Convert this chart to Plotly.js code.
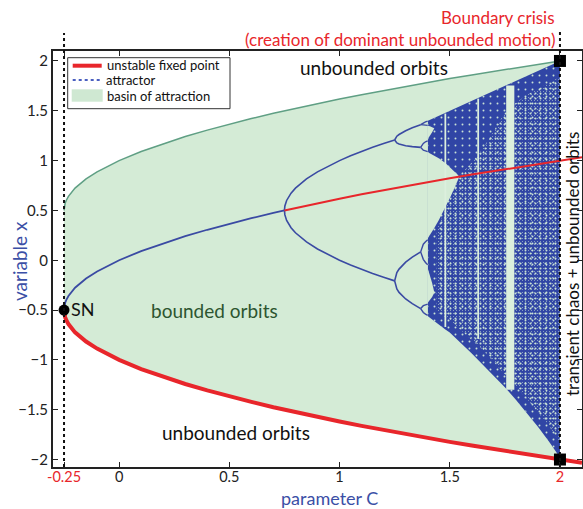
<!DOCTYPE html>
<html>
<head>
<meta charset="utf-8">
<script src="https://cdn.plot.ly/plotly-3.0.1.min.js"></script>
<style>
  html, body { margin: 0; padding: 0; background: #ffffff; }
  #chart { width: 583px; height: 509px; }
</style>
</head>
<body>
<div id="chart"></div>
<script>
// Quadratic map x -> C - x^2 : fixed points, basin and attractor versus parameter C

// Unstable (saddle) fixed point, lower branch; also the lower edge of the basin
const saddleC = [-0.25, -0.249, -0.245, -0.24, -0.23, -0.2, -0.15, -0.1, -0.05, 0,
  0.1, 0.2, 0.3, 0.4, 0.5, 0.6, 0.7, 0.8, 0.9, 1.0,
  1.1, 1.2, 1.3, 1.4, 1.5, 1.6, 1.7, 1.8, 1.9, 2.0, 2.1];
const saddleX = [-0.5, -0.532, -0.571, -0.6, -0.641, -0.724, -0.816, -0.887, -0.947, -1.0,
  -1.092, -1.171, -1.242, -1.306, -1.366, -1.422, -1.475, -1.525, -1.572, -1.618,
  -1.662, -1.704, -1.745, -1.785, -1.823, -1.860, -1.896, -1.932, -1.966, -2.0, -2.033];

// Upper edge of the basin of attraction
const basinC = [-0.25, -0.249, -0.245, -0.24, -0.23, -0.2, -0.15, -0.1, -0.05, 0,
  0.1, 0.2, 0.3, 0.4, 0.5, 0.6, 0.7, 0.8, 0.9, 1.0,
  1.1, 1.2, 1.3, 1.4, 1.5, 1.6, 1.7, 1.8, 1.9, 2.0];
const basinTop = [0.5, 0.532, 0.571, 0.6, 0.641, 0.724, 0.816, 0.887, 0.947, 1.0,
  1.092, 1.171, 1.242, 1.306, 1.366, 1.422, 1.475, 1.525, 1.572, 1.618,
  1.662, 1.704, 1.745, 1.785, 1.823, 1.860, 1.896, 1.932, 1.966, 2.0];
const basinBottom = [-0.5, -0.532, -0.571, -0.6, -0.641, -0.724, -0.816, -0.887, -0.947, -1.0,
  -1.092, -1.171, -1.242, -1.306, -1.366, -1.422, -1.475, -1.525, -1.572, -1.618,
  -1.662, -1.704, -1.745, -1.785, -1.823, -1.860, -1.896, -1.932, -1.966, -2.0];

// Stable fixed point (period 1)
const fixC = [-0.25, -0.249, -0.245, -0.24, -0.23, -0.2, -0.15, -0.1, -0.05, 0,
  0.1, 0.2, 0.3, 0.4, 0.5, 0.6, 0.7, 0.75];
const fixX = [-0.5, -0.468, -0.429, -0.4, -0.359, -0.276, -0.184, -0.113, -0.053, 0,
  0.092, 0.171, 0.242, 0.306, 0.366, 0.422, 0.475, 0.5];

// Same fixed point after it loses stability
const fixUC = [0.75, 0.8, 0.9, 1.0, 1.1, 1.2, 1.3, 1.4, 1.5, 1.6, 1.7, 1.8, 1.9, 2.0, 2.1];
const fixUX = [0.5, 0.525, 0.572, 0.618, 0.662, 0.704, 0.745, 0.785, 0.823, 0.860, 0.896, 0.932, 0.966, 1.0, 1.033];

// Period-2 orbit
const p2C = [0.75, 0.752, 0.76, 0.78, 0.8, 0.85, 0.9, 0.95, 1.0, 1.05, 1.1, 1.15, 1.2, 1.25];
const p2Upper = [0.5, 0.545, 0.6, 0.673, 0.724, 0.816, 0.887, 0.947, 1.0, 1.048, 1.092, 1.133, 1.171, 1.207];
const p2Lower = [0.5, 0.455, 0.4, 0.327, 0.276, 0.184, 0.113, 0.053, 0.0, -0.048, -0.092, -0.133, -0.171, -0.207];

// Period-4 orbit
const p4C = [1.25, 1.255, 1.26, 1.27, 1.3, 1.33, 1.35, 1.368];
const p4A = [1.207, 1.232, 1.245, 1.262, 1.300, 1.329, 1.346, 1.361];
const p4B = [1.207, 1.184, 1.177, 1.166, 1.149, 1.140, 1.136, 1.133];
const p4D = [-0.207, -0.149, -0.124, -0.089, -0.019, 0.031, 0.060, 0.084];
const p4E = [-0.207, -0.265, -0.289, -0.323, -0.389, -0.436, -0.463, -0.485];

// Period-8 orbit
const p8C = [1.368, 1.38, 1.39, 1.40];
const p8Branches = [
  [1.361, 1.379, 1.389, 1.396],
  [1.361, 1.355, 1.356, 1.354],
  [1.133, 1.172, 1.189, 1.198],
  [1.133, 1.104, 1.098, 1.090],
  [0.084, 0.161, 0.185, 0.205],
  [0.084, 0.009, -0.022, -0.045],
  [-0.485, -0.456, -0.448, -0.440],
  [-0.485, -0.524, -0.541, -0.553]
];

// Chaotic attractor: outer envelope
const envC = [1.401, 1.41, 1.42, 1.43, 1.45, 1.48, 1.50, 1.52, 1.5437, 1.55,
  1.6, 1.65, 1.7, 1.75, 1.8, 1.85, 1.9, 1.95, 2.0];
const envTop = [1.401, 1.41, 1.42, 1.43, 1.45, 1.48, 1.50, 1.52, 1.5437, 1.55,
  1.6, 1.65, 1.7, 1.75, 1.8, 1.85, 1.9, 1.95, 2.0];
const envBottom = [-0.562, -0.578, -0.596, -0.612, -0.645, -0.695, -0.725, -0.765, -0.815, -0.830,
  -0.935, -1.045, -1.160, -1.275, -1.400, -1.530, -1.670, -1.820, -1.980];

// Thinly visited part of the chaotic attractor
const sparseC = [1.44, 1.5, 1.55, 1.6, 1.65, 1.7, 1.75, 1.8, 1.85, 1.9, 1.95, 2.0];
const sparseTop = [0.30, 0.62, 0.86, 0.98, 1.12, 1.30, 1.48, 1.58, 1.66, 1.72, 1.78, 1.84];
const sparseBottom = [-0.52, -0.60, -0.70, -0.80, -0.90, -1.02, -1.15, -1.27, -1.39, -1.52, -1.66, -1.83];

// Gap between the two chaotic bands
const gapC = [1.401, 1.41, 1.42, 1.43, 1.45, 1.48, 1.50, 1.52, 1.535, 1.5437];
const gapLow = [0.223, 0.253, 0.287, 0.324, 0.401, 0.529, 0.621, 0.718, 0.794, 0.839];
const gapHigh = [1.085, 1.076, 1.064, 1.052, 1.024, 0.975, 0.938, 0.895, 0.861, 0.839];

// Gaps of the four-band regime
const quadC = [1.401, 1.41, 1.42, 1.43];
const upperGapLow = [1.220, 1.248, 1.284, 1.324];
const upperGapHigh = [1.351, 1.346, 1.338, 1.325];
const lowerGapLow = [-0.425, -0.402, -0.369, -0.326];
const lowerGapHigh = [-0.088, -0.149, -0.228, -0.322];

// Periodic windows inside the chaos (periods 6, 5, 3)
const windowStart = [1.476, 1.625, 1.756];
const windowEnd = [1.484, 1.633, 1.793];
const windowTop = [1.472, 1.622, 1.755];
const windowBottom = [-0.67, -0.79, -1.30];

// Saddle-node point and boundary-crisis points
const snC = [-0.25], snX = [-0.5];
const crisisC = [2, 2], crisisX = [2, -2];

// x tick labels
const xTickVals = [-0.25, 0, 0.5, 1, 1.5, 2];
const xTickText = ['-0.25', '0', '0.5', '1', '1.5', '2'];

// ---------------------------------------------------------------
const RED = '#e8262b';
const BLUE = '#3a4aa3';
const TITLE_BLUE = '#3b4fa6';
const CHAOS_BLUE = '#3045a5';
const SPECK = '#c9e2d5';
const GREEN_FILL = '#d4ebd6';
const FONT = 'Lato, "Open Sans", sans-serif';

function polygon(cs, lower, upper) {
  return {
    x: cs.concat(cs.slice().reverse()),
    y: lower.concat(upper.slice().reverse())
  };
}
function area(p, extra) {
  return Object.assign({x: p.x, y: p.y, mode: 'lines', fill: 'toself', line: {width: 0},
    hoverinfo: 'skip', showlegend: false}, extra);
}

const traces = [];

traces.push(area(polygon(basinC, basinBottom, basinTop), {fillcolor: GREEN_FILL}));
traces.push({x: basinC, y: basinTop, mode: 'lines', line: {color: '#5f9f84', width: 1.5},
  hoverinfo: 'skip', showlegend: false});

// chaotic attractor: dense body, then speckles where orbits are sparse
const chaos = polygon(envC, envBottom, envTop);
traces.push(area(chaos, {fillcolor: CHAOS_BLUE}));
traces.push(area(chaos, {fillcolor: 'rgba(0,0,0,0)',
  fillpattern: {shape: '.', bgcolor: 'rgba(0,0,0,0)', fgcolor: SPECK, size: 7, solidity: 0.06}}));
const sparse = polygon(sparseC, sparseBottom, sparseTop);
traces.push(area(sparse, {fillcolor: 'rgba(0,0,0,0)',
  fillpattern: {shape: '.', bgcolor: 'rgba(0,0,0,0)', fgcolor: SPECK, size: 5, solidity: 0.14}}));
traces.push(area(sparse, {fillcolor: 'rgba(0,0,0,0)',
  fillpattern: {shape: '.', bgcolor: 'rgba(0,0,0,0)', fgcolor: SPECK, size: 3, solidity: 0.08}}));

[polygon(gapC, gapLow, gapHigh), polygon(quadC, upperGapLow, upperGapHigh),
 polygon(quadC, lowerGapLow, lowerGapHigh)].forEach(function (g) {
  traces.push(area(g, {fillcolor: GREEN_FILL}));
});

windowStart.forEach(function (c0, i) {
  const c1 = windowEnd[i];
  traces.push(area({x: [c0, c0, c1, c1], y: [windowBottom[i], windowTop[i], windowTop[i], windowBottom[i]]},
    {fillcolor: '#dcefdd'}));
});

function blueLine(xs, ys, w) {
  traces.push({x: xs, y: ys, mode: 'lines', line: {color: BLUE, width: w},
    hoverinfo: 'skip', showlegend: false});
}
blueLine(fixC, fixX, 1.8);
blueLine(p2C, p2Upper, 1.6);
blueLine(p2C, p2Lower, 1.6);
[p4A, p4B, p4D, p4E].forEach(function (b) { blueLine(p4C, b, 1.6); });
p8Branches.forEach(function (b) { blueLine(p8C, b, 1.4); });

traces.push({x: fixUC, y: fixUX, mode: 'lines', line: {color: RED, width: 2},
  hoverinfo: 'skip', showlegend: false});
traces.push({x: saddleC, y: saddleX, mode: 'lines', line: {color: RED, width: 4},
  hoverinfo: 'skip', showlegend: false});

traces.push({x: snC, y: snX, mode: 'markers', marker: {color: '#000', size: 11, symbol: 'circle'},
  cliponaxis: false, hoverinfo: 'skip', showlegend: false});
traces.push({x: crisisC, y: crisisX, mode: 'markers', marker: {color: '#000', size: 12, symbol: 'square'},
  cliponaxis: false, hoverinfo: 'skip', showlegend: false});

// page-pixel helpers for the frame of the plot area
const L = 53, T = 51, W = 529, H = 416;
function px(x) { return (x - L) / W; }
function py(y) { return 1 - (y - T) / H; }

const shapes = [
  {type: 'line', xref: 'x', yref: 'paper', x0: -0.25, x1: -0.25, y0: 0, y1: py(33),
    line: {color: '#111', width: 2, dash: '3px,3px'}},
  {type: 'line', xref: 'x', yref: 'paper', x0: 2, x1: 2, y0: 0, y1: py(32),
    line: {color: '#111', width: 2, dash: '3px,3px'}},
  // legend box and its samples
  {type: 'rect', xref: 'paper', yref: 'paper', x0: px(67.7), x1: px(230), y0: py(108.7), y1: py(57.7),
    line: {color: '#333', width: 1}, fillcolor: '#ffffff'},
  {type: 'line', xref: 'paper', yref: 'paper', x0: px(72.7), x1: px(101.7), y0: py(65.7), y1: py(65.7),
    line: {color: RED, width: 4}},
  {type: 'line', xref: 'paper', yref: 'paper', x0: px(72.7), x1: px(101.7), y0: py(80), y1: py(80),
    line: {color: '#4a5fc0', width: 2, dash: 'dot'}},
  {type: 'rect', xref: 'paper', yref: 'paper', x0: px(71.7), x1: px(102.7), y0: py(101.7), y1: py(89.3),
    line: {width: 0}, fillcolor: '#cfe8d2'}
];

function note(text, x, y, size, color, extra) {
  return Object.assign({text: text, xref: 'paper', yref: 'paper', x: px(x), y: py(y),
    xanchor: 'center', yanchor: 'middle', showarrow: false, borderpad: 0,
    font: {family: FONT, size: size, color: color}}, extra || {});
}

const annotations = [
  // axis titles
  note('parameter C', 329, 497.5, 18, TITLE_BLUE),
  note('variable x', 19, 261, 19, TITLE_BLUE, {textangle: -90}),
  // region and event labels
  note('Boundary crisis', 498, 18, 17, RED),
  note('(creation of dominant unbounded motion)', 399.5, 40, 17, RED),
  note('unbounded orbits', 374, 68, 19, '#111'),
  note('unbounded orbits', 235.5, 432, 19, '#111'),
  note('bounded orbits', 214.5, 310, 19, '#2d5530'),
  note('SN', 70, 309, 18, '#111', {xanchor: 'left'}),
  note('transient chaos + unbounded orbits', 572, 264, 17, '#111', {textangle: -90}),
  // legend entries
  note('unstable fixed point', 106, 64.5, 13, '#111', {xanchor: 'left'}),
  note('attractor', 105, 80, 13, '#111', {xanchor: 'left'}),
  note('basin of attraction', 106, 96, 13, '#111', {xanchor: 'left'})
];

const layout = {
  width: 583, height: 509,
  margin: {l: L, r: 583 - L - W, t: T, b: 509 - T - H},
  paper_bgcolor: '#ffffff', plot_bgcolor: '#ffffff',
  font: {family: FONT, size: 15, color: '#222'},
  showlegend: false,
  xaxis: {
    range: [-0.3, 2.1], showgrid: false, zeroline: false,
    showline: true, linecolor: '#222', linewidth: 2, mirror: 'ticks',
    ticks: 'inside', ticklen: 5, tickcolor: '#222', tickwidth: 1,
    ticklabelstandoff: -4,
    tickvals: xTickVals,
    ticktext: xTickText.map(function (t, i) {
      return (i === 0 || i === xTickText.length - 1) ? '<span style="color:' + RED + '">' + t + '</span>' : t;
    }),
    tickfont: {family: FONT, size: 14.5, color: '#222'}
  },
  yaxis: {
    range: [-2.075, 2.1], showgrid: false, zeroline: false,
    showline: true, linecolor: '#222', linewidth: 2, mirror: 'ticks',
    ticks: 'inside', ticklen: 5, tickcolor: '#222', tickwidth: 1,
    dtick: 0.5, tick0: 0,
    tickfont: {family: FONT, size: 15, color: '#222'}
  },
  shapes: shapes,
  annotations: annotations
};

Plotly.newPlot('chart', traces, layout, {displayModeBar: false, staticPlot: true});
</script>
</body>
</html>
